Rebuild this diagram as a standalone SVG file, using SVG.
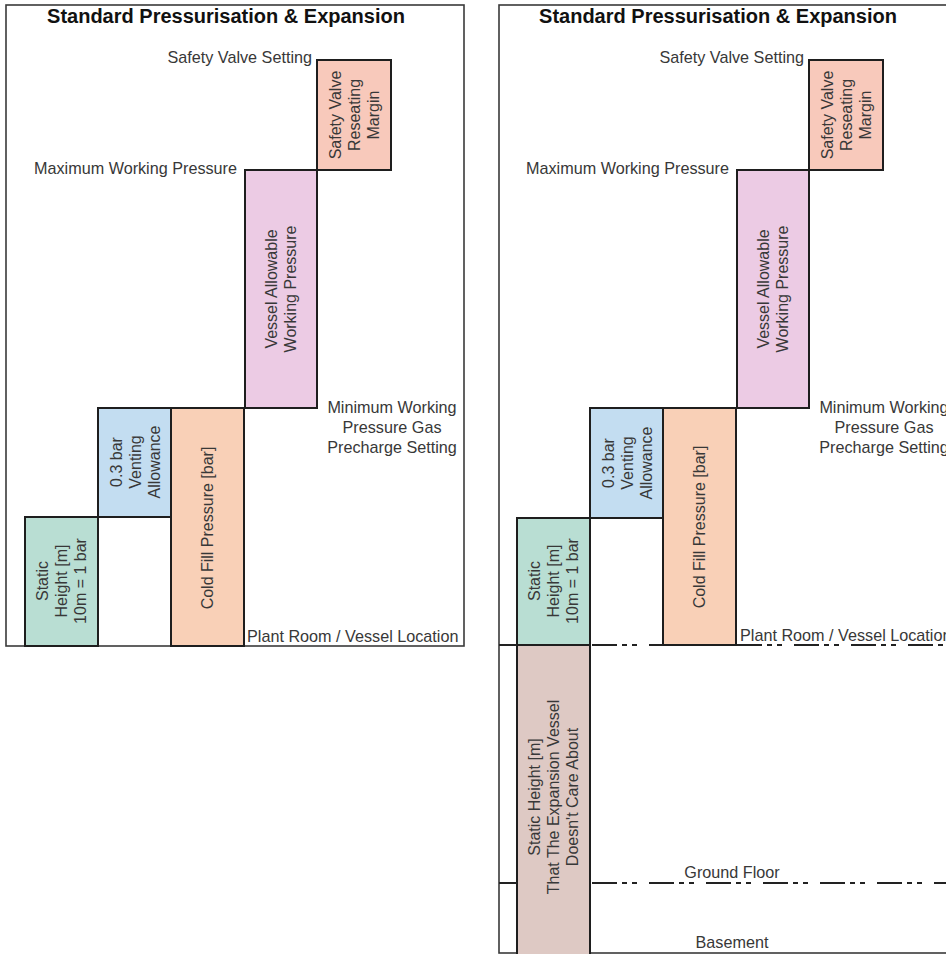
<svg xmlns="http://www.w3.org/2000/svg" width="946" height="954" viewBox="0 0 946 954">
<style>
  .frame{fill:none;stroke:#3a3a3a;stroke-width:1.6}
  .box{stroke:#1e1e1e;stroke-width:2}
  .title{font-family:"Liberation Sans",Arial,sans-serif;font-size:20px;font-weight:bold;fill:#111;text-anchor:middle}
  .lbl{font-family:"Liberation Sans",Arial,sans-serif;font-size:16.2px;fill:#383838}
  .in{font-family:"Liberation Sans",Arial,sans-serif;font-size:16px;fill:#383838;text-anchor:middle}
  .dd{fill:none;stroke:#222;stroke-width:2.2;stroke-dasharray:25 5 5 5 5 12}
  .solid{fill:none;stroke:#222;stroke-width:2}
  .sv{fill:#F8C9BB}.va{fill:#ECCBE4}.vt{fill:#C3DDF1}.cf{fill:#F9D0B7}.sh{fill:#B9DED3}.bs{fill:#DEC9C4}
</style>
<rect width="946" height="954" fill="#fff"/>

<!-- Left panel -->
<g id="left-panel">
  <rect class="frame" x="6" y="5" width="458" height="641"/>
  <text class="title" x="226" y="23">Standard Pressurisation &amp; Expansion</text>
  <text class="lbl" x="312" y="63" text-anchor="end">Safety Valve Setting</text>
  <text class="lbl" x="237" y="174" text-anchor="end">Maximum Working Pressure</text>
  <text class="lbl" x="392" y="413" text-anchor="middle"><tspan x="392">Minimum Working</tspan><tspan x="392" dy="20">Pressure Gas</tspan><tspan x="392" dy="20">Precharge Setting</tspan></text>
  <text class="lbl" x="247" y="642">Plant Room / Vessel Location</text>
</g>
<g id="L-safety-valve">
  <rect class="box sv" x="317" y="60" width="74" height="110"/>
  <text class="in" transform="translate(354,115) rotate(-90)"><tspan x="0" y="-13.5">Safety Valve</tspan><tspan x="0" y="5.5">Reseating</tspan><tspan x="0" y="24.5">Margin</tspan></text>
</g>
<g id="L-vessel-allowable">
  <rect class="box va" x="245" y="170" width="72" height="238"/>
  <text class="in" transform="translate(281,289) rotate(-90)"><tspan x="0" y="-4">Vessel Allowable</tspan><tspan x="0" y="15">Working Pressure</tspan></text>
</g>
<g id="L-venting">
  <rect class="box vt" x="98" y="408" width="73" height="109"/>
  <text class="in" transform="translate(135,462) rotate(-90)"><tspan x="0" y="-13.5">0.3 bar</tspan><tspan x="0" y="5.5">Venting</tspan><tspan x="0" y="24.5">Allowance</tspan></text>
</g>
<g id="L-cold-fill">
  <rect class="box cf" x="171" y="408" width="73" height="238"/>
  <text class="in" transform="translate(207.5,528) rotate(-90)"><tspan x="0" y="5.5">Cold Fill Pressure [bar]</tspan></text>
</g>
<g id="L-static-height">
  <rect class="box sh" x="25" y="517" width="73" height="129"/>
  <text class="in" transform="translate(61.5,581) rotate(-90)"><tspan x="0" y="-13.5">Static</tspan><tspan x="0" y="5.5">Height [m]</tspan><tspan x="0" y="24.5">10m = 1 bar</tspan></text>
</g>

<!-- Right panel -->
<g id="right-panel">
  <rect class="frame" x="499" y="5" width="470" height="948"/>
  <text class="title" x="718" y="23">Standard Pressurisation &amp; Expansion</text>
  <text class="lbl" x="804" y="63" text-anchor="end">Safety Valve Setting</text>
  <text class="lbl" x="729" y="174" text-anchor="end">Maximum Working Pressure</text>
  <text class="lbl" x="884" y="413" text-anchor="middle"><tspan x="884">Minimum Working</tspan><tspan x="884" dy="20">Pressure Gas</tspan><tspan x="884" dy="20">Precharge Setting</tspan></text>
  <text class="lbl" x="740" y="641">Plant Room / Vessel Location</text>
  <text class="lbl" x="732" y="878" text-anchor="middle">Ground Floor</text>
  <text class="lbl" x="732" y="948" text-anchor="middle">Basement</text>
</g>
<g id="R-safety-valve">
  <rect class="box sv" x="809" y="60" width="74" height="110"/>
  <text class="in" transform="translate(846,115) rotate(-90)"><tspan x="0" y="-13.5">Safety Valve</tspan><tspan x="0" y="5.5">Reseating</tspan><tspan x="0" y="24.5">Margin</tspan></text>
</g>
<g id="R-vessel-allowable">
  <rect class="box va" x="737" y="170" width="72" height="238"/>
  <text class="in" transform="translate(773,289) rotate(-90)"><tspan x="0" y="-4">Vessel Allowable</tspan><tspan x="0" y="15">Working Pressure</tspan></text>
</g>
<g id="R-venting">
  <rect class="box vt" x="590" y="408" width="73" height="110"/>
  <text class="in" transform="translate(627,463) rotate(-90)"><tspan x="0" y="-13.5">0.3 bar</tspan><tspan x="0" y="5.5">Venting</tspan><tspan x="0" y="24.5">Allowance</tspan></text>
</g>
<g id="R-cold-fill">
  <rect class="box cf" x="663" y="408" width="73" height="237"/>
  <text class="in" transform="translate(699.5,527) rotate(-90)"><tspan x="0" y="5.5">Cold Fill Pressure [bar]</tspan></text>
</g>
<g id="R-static-height">
  <rect class="box sh" x="517" y="518" width="73" height="127"/>
  <text class="in" transform="translate(553.5,581) rotate(-90)"><tspan x="0" y="-13.5">Static</tspan><tspan x="0" y="5.5">Height [m]</tspan><tspan x="0" y="24.5">10m = 1 bar</tspan></text>
</g>
<g id="R-static-ignored">
  <rect class="box bs" x="517" y="645" width="73" height="320"/>
  <text class="in" transform="translate(553.5,797) rotate(-90)"><tspan x="0" y="-13.5">Static Height [m]</tspan><tspan x="0" y="5.5">That The Expansion Vessel</tspan><tspan x="0" y="24.5">Doesn't Care About</tspan></text>
</g>

<g id="connectors">
  <line class="solid" x1="499" y1="645" x2="517" y2="645"/>
  <line class="dd" x1="592" y1="645" x2="663" y2="645"/>
  <line class="dd" x1="737" y1="645" x2="946" y2="645"/>
  <line class="solid" x1="499" y1="883" x2="517" y2="883"/>
  <line class="dd" x1="592" y1="883" x2="946" y2="883"/>
</g>
</svg>
